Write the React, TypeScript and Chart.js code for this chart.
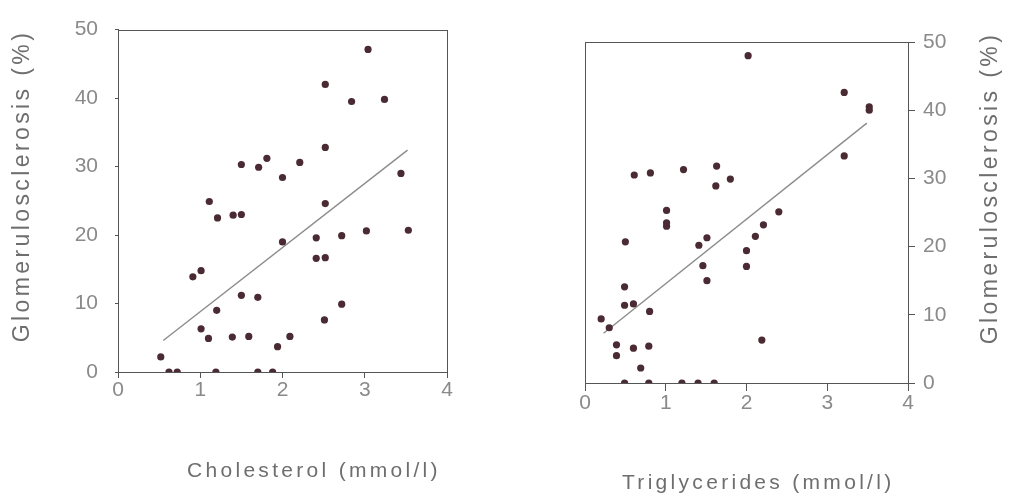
import React, { useEffect, useRef } from "react";
import { Chart, registerables } from "chart.js";

Chart.register(...registerables);

// ---------- data ----------
const xTickValues = [0, 1, 2, 3, 4];
const yTickValues = [0, 10, 20, 30, 40, 50];

const yAxisTitle = "Glomerulosclerosis (%)";
const cholTitle = "Cholesterol (mmol/l)";
const trigTitle = "Triglycerides (mmol/l)";

const cholX = [3.04, 2.52, 2.84, 3.24, 2.52, 1.5, 1.71, 1.81, 2.21, 2.0, 3.44, 1.11, 2.52, 1.21, 1.4, 1.5, 2.0, 2.41, 2.72, 3.02, 3.53, 2.41, 2.52, 0.91, 1.01, 1.5, 1.7, 1.2, 2.72, 2.51, 1.01, 1.1, 1.39, 1.59, 2.09, 1.94, 0.52, 0.62, 0.72, 1.19, 1.7, 1.88];
const cholY = [47.1, 42.0, 39.5, 39.8, 32.8, 30.3, 29.9, 31.2, 30.6, 28.4, 29.0, 24.9, 24.6, 22.5, 22.9, 23.0, 19.0, 19.6, 19.9, 20.6, 20.7, 16.6, 16.7, 13.9, 14.8, 11.2, 10.9, 9.0, 9.9, 7.6, 6.3, 4.9, 5.1, 5.2, 5.2, 3.7, 2.2, 0, 0, 0, 0, 0];
const cholFitX = [0.55, 3.52];
const cholFitY = [4.6, 32.4];

const trigX = [2.02, 3.21, 3.52, 3.52, 3.21, 0.61, 0.81, 1.22, 1.63, 1.62, 1.8, 1.01, 2.4, 1.01, 1.01, 0.5, 1.41, 1.51, 2.21, 2.11, 2.0, 2.0, 1.46, 1.51, 0.49, 0.49, 0.6, 0.8, 0.2, 0.3, 0.39, 0.39, 0.6, 0.79, 0.69, 2.19, 0.49, 0.79, 1.2, 1.4, 1.6];
const trigY = [48.0, 42.6, 40.5, 40.0, 33.3, 30.5, 30.8, 31.3, 31.8, 28.9, 29.9, 25.3, 25.1, 23.5, 23.0, 20.7, 20.2, 21.3, 23.2, 21.5, 19.4, 17.1, 17.2, 15.0, 14.1, 11.4, 11.6, 10.5, 9.4, 8.1, 5.6, 4.0, 5.1, 5.4, 2.2, 6.3, 0, 0, 0, 0, 0];
const trigFitX = [0.23, 3.49];
const trigFitY = [7.3, 38.1];

// ---------- styles ----------
const FONT = "'Liberation Sans', Arial, Helvetica, sans-serif";
const DOT = "#4a2b33";
const FIT = "#8c8c8c";
const AXIS = "#555555";
const TICK_TXT = "#8a8a8a";
const TITLE_TXT = "#6e6e6e";

type TitleItem = { text: string; x: number; y: number; rotate: boolean; align: CanvasTextAlign; size: number; spacing: number };

function makeTitlePlugin(items: TitleItem[]) {
  return {
    id: "axisTitles",
    afterDraw(chart: any) {
      const ctx = chart.ctx as CanvasRenderingContext2D;
      for (const t of items) {
        ctx.save();
        ctx.font = `${t.size}px ${FONT}`;
        ctx.fillStyle = TITLE_TXT;
        (ctx as any).letterSpacing = `${t.spacing}px`;
        ctx.textBaseline = "middle";
        ctx.textAlign = t.align;
        ctx.translate(t.x, t.y);
        if (t.rotate) ctx.rotate(-Math.PI / 2);
        ctx.fillText(t.text, 0, 0);
        ctx.restore();
      }
    },
  };
}

const framePlugin = {
  id: "frame",
  afterDraw(chart: any) {
    const { ctx, chartArea: a } = chart;
    ctx.save();
    ctx.strokeStyle = AXIS;
    ctx.lineWidth = 1;
    ctx.strokeRect(Math.round(a.left) + 0.5, Math.round(a.top) + 0.5, Math.round(a.right - a.left), Math.round(a.bottom - a.top));
    ctx.restore();
  },
};

function pts(xs: number[], ys: number[]) {
  return xs.map((x, i) => ({ x, y: ys[i] }));
}

function buildConfig(opts: {
  xs: number[]; ys: number[]; fx: number[]; fy: number[];
  yPos: "left" | "right"; padding: any; xHeight: number; yWidth: number;
  xTickLen: number; yTickLen: number; yTickPad: number; titles: TitleItem[];
}) {
  const tickFont = { family: FONT, size: 21 };
  return {
    type: "scatter" as const,
    data: {
      datasets: [
        {
          type: "scatter" as const,
          data: pts(opts.xs, opts.ys),
          pointRadius: 3.6,
          pointBackgroundColor: DOT,
          pointBorderColor: DOT,
          pointBorderWidth: 0,
          order: 1,
        },
        {
          type: "line" as const,
          data: pts(opts.fx, opts.fy),
          borderColor: FIT,
          borderWidth: 1.4,
          pointRadius: 0,
          fill: false,
          order: 2,
        },
      ],
    },
    options: {
      responsive: false,
      animation: false as const,
      devicePixelRatio: 1,
      layout: { padding: opts.padding },
      plugins: { legend: { display: false }, tooltip: { enabled: false } },
      scales: {
        x: {
          type: "linear" as const,
          position: "bottom" as const,
          min: 0,
          max: 4,
          afterBuildTicks: (s: any) => { s.ticks = xTickValues.map((v) => ({ value: v })); },
          afterFit: (s: any) => { s.height = opts.xHeight; },
          ticks: { font: tickFont, color: TICK_TXT, padding: 0, maxRotation: 0, autoSkip: false },
          grid: { drawOnChartArea: false, drawTicks: true, tickLength: opts.xTickLen, color: AXIS },
          border: { display: true, color: AXIS, width: 1 },
          title: { display: false },
        },
        y: {
          type: "linear" as const,
          position: opts.yPos,
          min: 0,
          max: 50,
          afterBuildTicks: (s: any) => { s.ticks = yTickValues.map((v) => ({ value: v })); },
          afterFit: (s: any) => { s.width = opts.yWidth; },
          ticks: { font: tickFont, color: TICK_TXT, padding: opts.yTickPad, autoSkip: false },
          grid: { drawOnChartArea: false, drawTicks: true, tickLength: opts.yTickLen, color: AXIS },
          border: { display: true, color: AXIS, width: 1 },
          title: { display: false },
        },
      },
    },
    plugins: [framePlugin, makeTitlePlugin(opts.titles)],
  };
}

export default function App() {
  const leftRef = useRef<HTMLCanvasElement>(null);
  const rightRef = useRef<HTMLCanvasElement>(null);

  useEffect(() => {
    const left = new Chart(
      leftRef.current!,
      buildConfig({
        xs: cholX, ys: cholY, fx: cholFitX, fy: cholFitY,
        yPos: "left",
        padding: { left: 0, top: 26, right: 73, bottom: 0 },
        xHeight: 126, yWidth: 118,
        xTickLen: 6, yTickLen: 3, yTickPad: 17,
        titles: [
          { text: yAxisTitle, x: 23, y: 186, rotate: true, align: "center", size: 23, spacing: 3.4 },
          { text: cholTitle, x: 187, y: 471, rotate: false, align: "left", size: 21, spacing: 3.3 },
        ],
      }) as any
    );
    const right = new Chart(
      rightRef.current!,
      buildConfig({
        xs: trigX, ys: trigY, fx: trigFitX, fy: trigFitY,
        yPos: "right",
        padding: { left: 65, top: 42, right: 0, bottom: 0 },
        xHeight: 115, yWidth: 101,
        xTickLen: 8, yTickLen: 7, yTickPad: 8,
        titles: [
          { text: yAxisTitle, x: 471, y: 188, rotate: true, align: "center", size: 23, spacing: 3.4 },
          { text: trigTitle, x: 102, y: 483, rotate: false, align: "left", size: 21, spacing: 3.3 },
        ],
      }) as any
    );
    return () => {
      left.destroy();
      right.destroy();
    };
  }, []);

  return (
    <div style={{ position: "absolute", left: 0, top: 0, width: 1009, height: 498, background: "#fff" }}>
      <canvas ref={leftRef} width={520} height={498} style={{ position: "absolute", left: 0, top: 0, width: 520, height: 498 }} />
      <canvas ref={rightRef} width={489} height={498} style={{ position: "absolute", left: 520, top: 0, width: 489, height: 498 }} />
    </div>
  );
}
